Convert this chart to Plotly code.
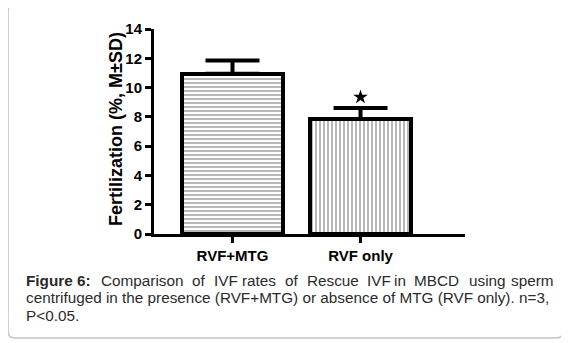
import plotly.graph_objects as go

categories = ["RVF+MTG", "RVF only"]
means = [10.95, 7.85]
sds = [0.9, 0.75]
patterns = ["-", "|"]
star_value = 9.35
y_ticks = [0, 2, 4, 6, 8, 10, 12, 14]

W, H = 569, 343
OFF = 8  # page body margin
L, T = 154 - OFF, 29 - OFF
R = W - (465 - OFF)
B = H - (234 - OFF)
PW, PH = W - L - R, H - T - B

def px(x):
    return (x - OFF - L) / PW

def py(y):
    return (H - B - (y - OFF)) / PH

FONT = "Liberation Sans, Arial, sans-serif"

fig = go.Figure()
for i, (c, m, s, p) in enumerate(zip(categories, means, sds, patterns)):
    fig.add_trace(go.Bar(
        x=[i], y=[m], width=0.79,
        marker=dict(color="white", line=dict(color="black", width=4),
                    pattern=dict(shape=p, size=4, solidity=0.28, fgcolor="black",
                                 bgcolor="white", fillmode="overlay")),
        error_y=dict(type="data", symmetric=False, array=[s], arrayminus=[0],
                     thickness=4, width=27, color="black"),
        showlegend=False, hoverinfo="skip"))

fig.add_trace(go.Scatter(x=[1], y=[star_value], mode="markers",
                         marker=dict(symbol="star", size=11, color="black"),
                         showlegend=False, hoverinfo="skip"))

fig.update_xaxes(range=[-0.613, 1.816], tickvals=[0, 1], ticktext=categories,
                 showline=True, linewidth=3, linecolor="black", ticks="outside",
                 ticklen=6, tickwidth=3, tickcolor="black", showgrid=False, zeroline=False,
                 tickfont=dict(family=FONT, size=15, color="black", weight="bold"))
fig.update_yaxes(range=[0, 14], tickvals=y_ticks, showline=True, linewidth=3,
                 linecolor="black", ticks="outside", ticklen=6, tickwidth=3,
                 tickcolor="black", showgrid=False, zeroline=False,
                 tickfont=dict(family=FONT, size=15, color="black", weight="bold"))

# y-axis title
fig.add_annotation(text="<b>Fertilization (%, M±SD)</b>", textangle=-90,
                   xref="paper", yref="paper", x=px(116), y=py(129),
                   xanchor="center", yanchor="middle",
                   showarrow=False, font=dict(family=FONT, size=18, color="black"))

# caption
CAP_FONT = dict(family=FONT, size=15.3, color="#2b2b2b")
line1_words = ["<b>Figure 6:</b>", "Comparison", "of", "IVF", "rates", "of", "Rescue",
               "IVF", "in", "MBCD", "using", "sperm"]
line1_x = [24, 99, 190, 212, 240, 283, 305, 365, 392, 412, 467, 509]
for w, xw in zip(line1_words, line1_x):
    fig.add_annotation(text=w, xref="paper", yref="paper", x=px(xw), y=py(280),
                       xanchor="left", yanchor="middle", showarrow=False, font=CAP_FONT)
other_lines = [
    "centrifuged in the presence (RVF+MTG) or absence of MTG (RVF only). n=3,",
    "P<0.05.",
]
for line, yc in zip(other_lines, [297.5, 315]):
    fig.add_annotation(text=line, xref="paper", yref="paper", x=px(24), y=py(yc),
                       xanchor="left", yanchor="middle", showarrow=False, font=CAP_FONT)

# rounded frame
x0, x1, y0, y1, r = 8, 563, 4, 338, 7
rx, ry = r / PW, r / PH
X0, X1, Y0, Y1 = px(x0), px(x1), py(y1), py(y0)
path = (f"M {X0+rx},{Y1} L {X1-rx},{Y1} Q {X1},{Y1} {X1},{Y1-ry} "
        f"L {X1},{Y0+ry} Q {X1},{Y0} {X1-rx},{Y0} L {X0+rx},{Y0} "
        f"Q {X0},{Y0} {X0},{Y0+ry} L {X0},{Y1-ry} Q {X0},{Y1} {X0+rx},{Y1} Z")
fig.add_shape(type="path", path=path, xref="paper", yref="paper",
              line=dict(color="#c4c4c4", width=1.5), layer="below")

fig.update_layout(width=W, height=H, margin=dict(l=L, r=R, t=T, b=B),
                  plot_bgcolor="white", paper_bgcolor="white", bargap=0)

fig.write_html("out.html")
